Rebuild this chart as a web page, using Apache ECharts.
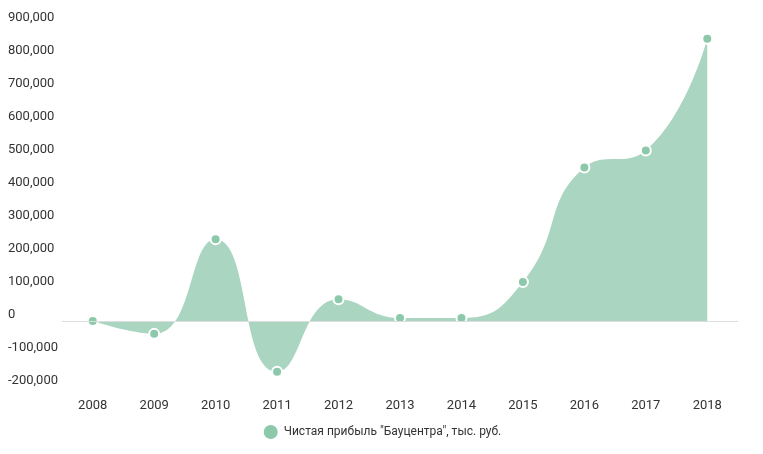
<!DOCTYPE html>
<html><head><meta charset="utf-8">
<script src="https://cdn.jsdelivr.net/npm/echarts@6/dist/echarts.min.js"></script>
<style>body{margin:0}#c{width:763px;height:454px}</style></head>
<body><div id="c"></div>
<script>
const categories=['2008','2009','2010','2011','2012','2013','2014','2015','2016','2017','2018'];
const profit=[0,-39000,248000,-154000,66000,9000,9000,118000,465000,517000,855000];
const seriesName='Чистая прибыль "Бауцентра", тыс. руб.';
const chart=echarts.init(document.getElementById('c'));
chart.setOption({
  animation:false,
  grid:{left:62,right:25,top:24,bottom:67},
  legend:{bottom:8,icon:'circle',itemWidth:16,itemHeight:16,textStyle:{fontFamily:'Roboto',fontSize:12,color:'#333'}},
  xAxis:{type:'category',data:categories,axisLine:{show:false},axisTick:{show:false},
    axisLabel:{fontFamily:'Roboto',fontSize:13,color:'#333',margin:12}},
  yAxis:{type:'value',min:-200000,max:900000,interval:100000,splitLine:{show:false},
    axisLabel:{fontFamily:'Roboto',fontSize:13,color:'#333',align:'left',margin:54,verticalAlign:'bottom',padding:[0,0,0,0]}},
  series:[{name:seriesName,type:'line',smooth:true,data:profit,symbol:'circle',symbolSize:10,
    itemStyle:{color:'#8cc9aa',borderColor:'#fff',borderWidth:2},
    lineStyle:{width:0,color:'#8cc9aa'},
    areaStyle:{color:'#aad5c1',opacity:1,origin:0},
    markLine:{silent:true,symbol:'none',label:{show:false},lineStyle:{color:'#ddd',type:'solid',width:1},data:[{yAxis:0}]}
  }]
});
</script></body></html>
